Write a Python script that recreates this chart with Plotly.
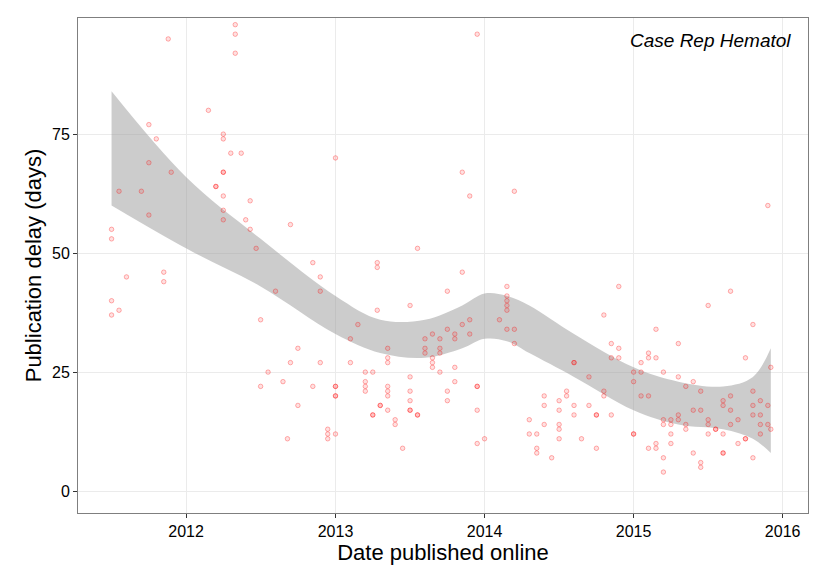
import pandas as pd
import plotly.graph_objects as go

# points: (decimal year, delays in days)
point_groups = [
    (2011.50, [40, 37, 55, 53]), (2011.55, [63, 38]), (2011.60, [45]),
    (2011.70, [63]), (2011.75, [69, 58, 77]), (2011.80, [74]),
    (2011.85, [44, 46]), (2011.88, [95]), (2011.90, [67]),
    (2012.15, [80]), (2012.20, [64, 64]),
    (2012.25, [67, 62, 59, 57, 74, 75, 67]), (2012.30, [71]),
    (2012.33, [92, 98, 96]), (2012.37, [71]), (2012.40, [57]),
    (2012.43, [55, 61]), (2012.47, [51]), (2012.50, [36, 22]),
    (2012.55, [25]), (2012.60, [42]), (2012.65, [23]), (2012.68, [11]),
    (2012.70, [56, 27]), (2012.75, [30, 18]), (2012.85, [48, 22]),
    (2012.90, [45, 42, 27]), (2012.95, [13, 12, 11]),
    (2013.00, [70, 22, 20, 20, 22, 12]), (2013.10, [32, 27]),
    (2013.15, [35]), (2013.20, [25, 23, 22, 21]), (2013.25, [25, 16, 16]),
    (2013.28, [38, 48, 47]), (2013.30, [18, 18]),
    (2013.35, [30, 28, 27, 22, 21, 20, 17]), (2013.40, [15, 14]),
    (2013.45, [9]), (2013.50, [39, 24, 21, 19, 17, 17]),
    (2013.55, [51, 16, 16]), (2013.60, [32, 30, 29]),
    (2013.65, [33, 28, 26, 27]), (2013.70, [32, 30, 29, 25]),
    (2013.75, [42, 34, 21, 19]), (2013.80, [33, 32, 23, 26]),
    (2013.85, [67, 46, 35]), (2013.90, [62, 33, 36]),
    (2013.95, [22, 17, 10, 22, 96]), (2014.00, [11]), (2014.10, [36]),
    (2014.15, [43, 41, 40, 39, 38, 34]), (2014.20, [63, 34, 31]),
    (2014.30, [15, 12]), (2014.35, [9, 8, 12]), (2014.40, [20, 18, 14]),
    (2014.45, [7]), (2014.50, [19, 17, 14, 13, 11]), (2014.55, [20, 21]),
    (2014.60, [27, 18, 27, 16]), (2014.65, [11]), (2014.70, [24, 18]),
    (2014.75, [9, 16, 16]), (2014.80, [37, 20, 21]),
    (2014.85, [31, 28, 16]), (2014.90, [43, 28, 30]),
    (2015.00, [25, 23, 12, 12]), (2015.05, [27, 25, 20]),
    (2015.10, [28, 29, 20, 9]), (2015.15, [34, 28, 9, 10]),
    (2015.20, [25, 14, 15, 4, 7]), (2015.25, [15, 12, 14, 10]),
    (2015.30, [31, 24, 15, 16]), (2015.35, [22, 13, 14]),
    (2015.40, [23, 17, 8]), (2015.45, [17, 21, 5, 6]),
    (2015.50, [39, 15, 14, 12]), (2015.55, [13, 13]),
    (2015.60, [18, 19, 12, 8, 8]), (2015.65, [42, 20, 17, 14]),
    (2015.70, [10, 15]), (2015.75, [28, 11, 11]),
    (2015.80, [35, 21, 18, 16, 7]), (2015.85, [19, 16, 14, 12]),
    (2015.90, [60, 18, 14]), (2015.92, [26, 13]),
]

# smoother confidence band
band_year = [2011.50, 2012.00, 2012.50, 2013.00, 2013.30, 2013.60, 2013.85,
             2014.00, 2014.15, 2014.30, 2014.60, 2015.00, 2015.30, 2015.60,
             2015.80, 2015.92]
band_upper = [84, 66, 53, 41, 36, 36, 39, 41.5, 41, 39, 33, 26, 23, 22, 24, 30]
band_lower = [60, 51, 43, 33, 29, 28, 30, 32, 31.5, 29, 24, 17, 14, 13, 11, 8]


def to_date(y):
    year = int(y)
    start = pd.Timestamp(year=year, month=1, day=1)
    return start + pd.Timedelta(days=(y - year) * 365.25)


pub_date = []
delay_days = []
for yr, vals in point_groups:
    for v in vals:
        pub_date.append(to_date(yr))
        delay_days.append(v)

band_date = [to_date(y) for y in band_year]

fig = go.Figure()
fig.add_trace(go.Scatter(x=band_date, y=band_lower, mode='lines',
                         line=dict(width=0, shape='spline'), hoverinfo='skip'))
fig.add_trace(go.Scatter(x=band_date, y=band_upper, mode='lines',
                         line=dict(width=0, shape='spline'), fill='tonexty',
                         fillcolor='rgba(153,153,153,0.5)'))
fig.add_trace(go.Scatter(x=pub_date, y=delay_days, mode='markers',
                         marker=dict(size=4.5, color='rgba(255,0,0,0.12)',
                                     line=dict(color='rgba(255,0,0,0.3)', width=1))))

fig.update_layout(
    width=825, height=570, showlegend=False,
    plot_bgcolor='white', paper_bgcolor='white',
    font=dict(family='Liberation Sans, Arial', size=16, color='black'),
    margin=dict(l=70, r=25, t=10, b=65, autoexpand=False),
    xaxis=dict(title=dict(text='Date published online', font=dict(size=22), standoff=4),
               automargin=False,
               range=[to_date(2011.275), to_date(2016.17)],
               tickvals=[to_date(y) for y in [2012, 2013, 2014, 2015, 2016]],
               ticktext=['2012', '2013', '2014', '2015', '2016'],
               showgrid=True, gridcolor='#ebebeb', zeroline=False,
               showline=True, linecolor='#7f7f7f', mirror=True,
               ticks='outside', ticklen=4, tickcolor='#333'),
    yaxis=dict(title=dict(text='Publication delay (days)', font=dict(size=22), standoff=4),
               automargin=False,
               range=[-4.6, 99.4], tickvals=[0, 25, 50, 75],
               showgrid=True, gridcolor='#ebebeb', zeroline=False,
               showline=True, linecolor='#7f7f7f', mirror=True,
               ticks='outside', ticklen=4, tickcolor='#333'),
    annotations=[dict(text='<i>Case Rep Hematol</i>', x=0.98, y=0.98,
                      xref='paper', yref='paper', xanchor='right', yanchor='top',
                      showarrow=False, font=dict(size=19))],
)

fig.write_html("out.html")
